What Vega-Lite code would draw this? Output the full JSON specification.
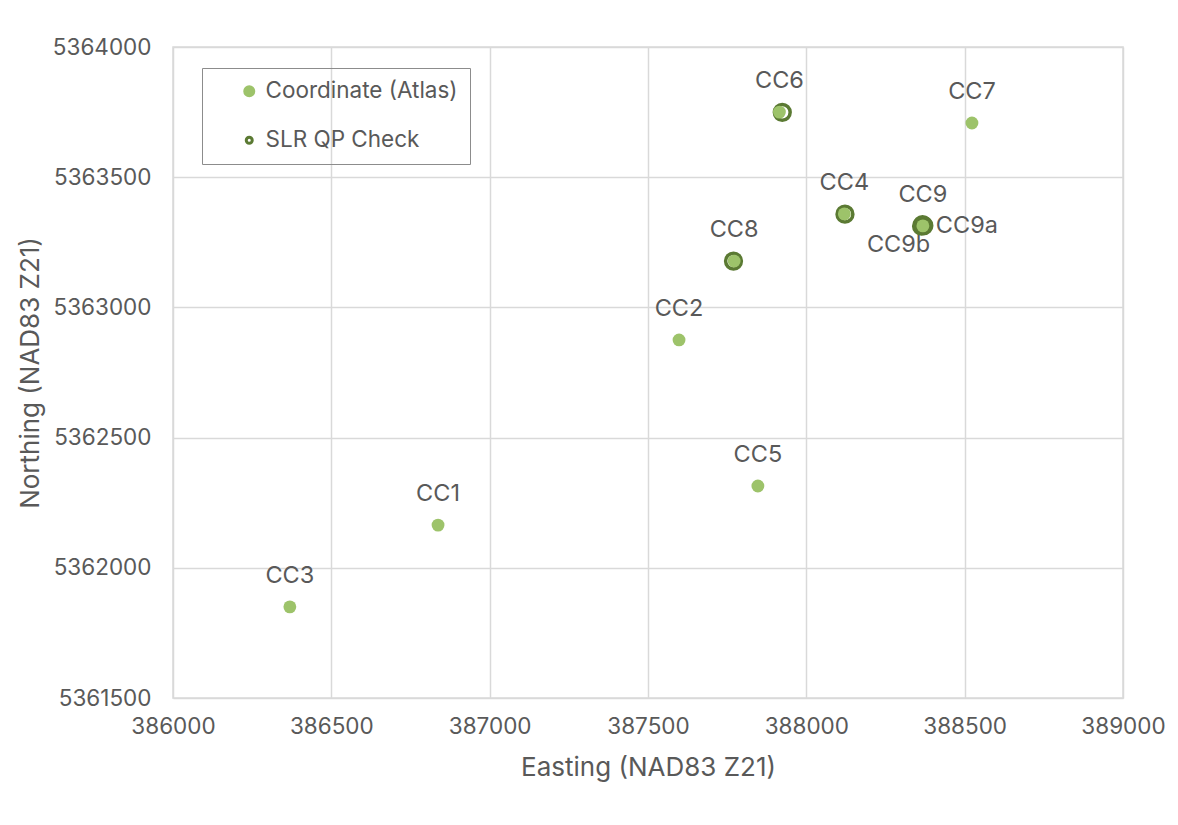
{
  "$schema": "https://vega.github.io/schema/vega-lite/v6.json",
  "width": 950,
  "height": 651,
  "autosize": {"type": "none"},
  "padding": {"left": 173, "top": 47, "right": 55, "bottom": 127},
  "background": "white",
  "config": {
    "font": "Inter",
    "view": {"stroke": "#d9d9d9", "strokeWidth": 1.5},
    "axis": {
      "gridColor": "#d9d9d9",
      "gridWidth": 1.5,
      "domain": false,
      "ticks": false,
      "labelFlush": false,
      "labelOverlap": false,
      "labelColor": "#595959",
      "labelFontSize": 22.5,
      "labelFont": "Inter",
      "titleColor": "#595959",
      "titleFontSize": 26,
      "titleFont": "Inter",
      "titleFontWeight": "normal"
    }
  },
  "data": {
    "values": [
      {"name": "CC6", "series": "SLR QP Check", "easting": 387924, "northing": 5363749},
      {"name": "CC8", "series": "SLR QP Check", "easting": 387770, "northing": 5363178},
      {"name": "CC4", "series": "SLR QP Check", "easting": 388122, "northing": 5363358},
      {"name": "CC9", "series": "SLR QP Check", "easting": 388364, "northing": 5363312},
      {"name": "CC9a", "series": "SLR QP Check", "easting": 388371, "northing": 5363314},
      {"name": "CC9b", "series": "SLR QP Check", "easting": 388367, "northing": 5363318},
      {"name": "CC3", "series": "Coordinate (Atlas)", "easting": 386369, "northing": 5361850},
      {"name": "CC1", "series": "Coordinate (Atlas)", "easting": 386837, "northing": 5362164},
      {"name": "CC2", "series": "Coordinate (Atlas)", "easting": 387598, "northing": 5362875},
      {"name": "CC5", "series": "Coordinate (Atlas)", "easting": 387847, "northing": 5362314},
      {"name": "CC8", "series": "Coordinate (Atlas)", "easting": 387772, "northing": 5363178},
      {"name": "CC6", "series": "Coordinate (Atlas)", "easting": 387915, "northing": 5363750},
      {"name": "CC4", "series": "Coordinate (Atlas)", "easting": 388120, "northing": 5363359},
      {"name": "CC9", "series": "Coordinate (Atlas)", "easting": 388368, "northing": 5363313},
      {"name": "CC7", "series": "Coordinate (Atlas)", "easting": 388523, "northing": 5363708}
    ]
  },
  "encoding": {
    "x": {
      "field": "easting",
      "type": "quantitative",
      "scale": {"domain": [386000, 389000], "nice": false, "zero": false},
      "axis": {"title": "Easting (NAD83 Z21)", "values": [386000, 386500, 387000, 387500, 388000, 388500, 389000], "format": "d", "labelPadding": 17, "titlePadding": 17}
    },
    "y": {
      "field": "northing",
      "type": "quantitative",
      "scale": {"domain": [5361500, 5364000], "nice": false, "zero": false},
      "axis": {"title": "Northing (NAD83 Z21)", "values": [5361500, 5362000, 5362500, 5363000, 5363500, 5364000], "format": "d", "labelPadding": 22, "titlePadding": 9}
    }
  },
  "layer": [
    {
      "transform": [{"filter": "datum.series === 'SLR QP Check'"}],
      "mark": {"type": "point", "shape": "circle", "filled": false, "strokeWidth": 3.5, "size": 250, "opacity": 1},
      "encoding": {
        "color": {
          "field": "series",
          "type": "nominal",
          "scale": {"domain": ["Coordinate (Atlas)", "SLR QP Check"], "range": ["#9dc36a", "#5b7a33"]},
          "legend": {
            "title": null,
            "orient": "none",
            "legendX": 29,
            "legendY": 21,
            "direction": "vertical",
            "padding": 12,
            "rowPadding": 22,
            "symbolOffset": 24,
            "labelOffset": 5,
            "labelFontSize": 22.5,
            "labelFont": "Inter",
            "labelColor": "#595959",
            "labelLimit": 400,
            "strokeColor": "#8c8c8c",
            "symbolType": "circle",
            "symbolSize": 36,
            "symbolOpacity": 1,
            "symbolFillColor": {"expr": "datum.value === 'SLR QP Check' ? 'white' : '#9dc36a'"},
            "symbolStrokeWidth": {"expr": "datum.value === 'SLR QP Check' ? 3 : 6"}
          }
        }
      }
    },
    {
      "transform": [{"filter": "datum.series === 'Coordinate (Atlas)'"}],
      "mark": {"type": "circle", "size": 165, "opacity": 1, "color": "#9dc36a"},
      "encoding": {}
    },
    {
      "transform": [{"filter": "datum.series === 'Coordinate (Atlas)'"}],
      "mark": {"type": "text", "dy": -31, "fontSize": 23.5, "font": "Inter", "color": "#595959", "baseline": "middle", "align": "center"},
      "encoding": {"text": {"field": "name"}}
    },
    {
      "transform": [{"filter": "datum.name === 'CC9a'"}],
      "mark": {"type": "text", "dx": 12, "dy": 0, "fontSize": 23.5, "font": "Inter", "color": "#595959", "baseline": "middle", "align": "left"},
      "encoding": {"text": {"field": "name"}}
    },
    {
      "transform": [{"filter": "datum.name === 'CC9b'"}],
      "mark": {"type": "text", "dx": -24, "dy": 20, "fontSize": 23.5, "font": "Inter", "color": "#595959", "baseline": "middle", "align": "center"},
      "encoding": {"text": {"field": "name"}}
    }
  ]
}
